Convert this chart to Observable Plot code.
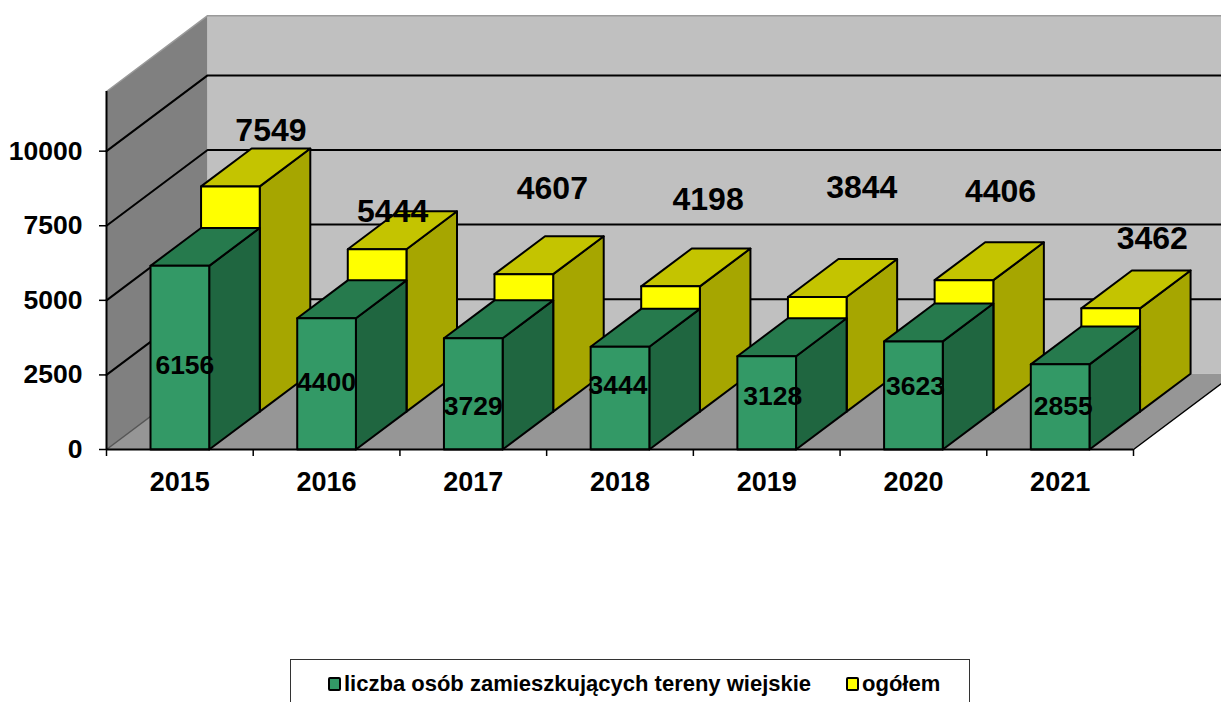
<!DOCTYPE html>
<html lang="pl">
<head>
<meta charset="utf-8">
<script src="https://cdn.jsdelivr.net/npm/d3@7"></script>
<script src="https://cdn.jsdelivr.net/npm/@observablehq/plot@0.6"></script>
<style>
html,body{margin:0;padding:0;background:#fff;width:1221px;height:702px;overflow:hidden;font-family:"Liberation Sans",Arial,sans-serif}
#legend{position:absolute;left:290px;top:659px;width:678px;height:60px;border:1px solid #333;border-bottom:none;box-sizing:content-box;font-weight:bold;font-size:22px;color:#000}
#legend span.k{position:absolute;top:11px;white-space:nowrap;line-height:26px}
#legend i{position:absolute;top:17px;width:9px;height:10px;border:2px solid #000;border-radius:2px}
</style>
</head>
<body>
<div id="chart"></div>
<div id="legend">
<i style="left:37px;background:#339966"></i><span class="k" style="left:53px">liczba osób zamieszkujących tereny wiejskie</span>
<i style="left:555px;background:#ffff00"></i><span class="k" style="left:571px">ogółem</span>
</div>
<script>
const years = [2015, 2016, 2017, 2018, 2019, 2020, 2021];
const rural = [6156, 4400, 3729, 3444, 3128, 3623, 2855];
const total = [7549, 5444, 4607, 4198, 3844, 4406, 3462];
const yTicks = [0, 2500, 5000, 7500, 10000];
const yMax = 12000;

// label nudges in pixels, relative to each label's anchor on its bar
const ruralNudgeX = [5, 0, 0, -2, 6, 2, 3];
const ruralNudgeY = [8, -1, 13, -13, -6, -9, 0];
const totalNudgeX = [-10, -35, -22, -13, -6, -14, -9];
const totalNudgeY = [-18, 0, -48, -49, -71, -51, -32];

// oblique projection: depth 1 = full floor depth, in scale units
const DX = 0.689, DY = 2540, HALF = 0.2;
const x0 = 2014.5, x1 = 2021.5;
const pt = (x, v, d) => ({x: x + d * DX, y: v + d * DY});

let id = 0;
const face = (fill, corners) => {
  const k = id++;
  const ring = [...corners, corners[0]];
  return ring.map(([x, v, d]) => ({...pt(x, v, d), id: k, fill}));
};
const box = (c, v, d0, d1, front, top, side) => {
  const a = c - HALF, b = c + HALF;
  return [
    ...face(side, [[b,0,d0],[b,v,d0],[b,v,d1],[b,0,d1]]),
    ...face(top, [[a,v,d0],[b,v,d0],[b,v,d1],[a,v,d1]]),
    ...face(front, [[a,0,d0],[b,0,d0],[b,v,d0],[a,v,d0]])
  ];
};

const wallLeft = face("#808080", [[x0,0,0],[x0,yMax,0],[x0,yMax,1],[x0,0,1]]);
const wallBack = face("#c0c0c0", [[x0,0,1],[x0,yMax,1],[x1,yMax,1],[x1,0,1]]);
const floor = face("#969696", [[x0,0,0],[x1,0,0],[x1,0,1],[x0,0,1]]);

const gridLines = yTicks.filter(v => v > 0).flatMap(v =>
  [[x0,v,0],[x0,v,1],[x1,v,1]].map(([x, w, d]) => ({...pt(x, w, d), v})));
const floorDiag = [[x0,0,0],[x0,0,1]].map(([x,v,d]) => pt(x,v,d));
const floorRight = [[x1,0,0],[x1,0,1]].map(([x,v,d]) => pt(x,v,d));
const wallTop = [[x0,yMax,0],[x0,yMax,1],[x1,yMax,1]].map(([x,v,d]) => pt(x,v,d));

const yellowBars = years.flatMap((c, i) => box(c, total[i], 0.5, 1, "#ffff00", "#c4c400", "#a6a600"));
const greenBars = years.flatMap((c, i) => box(c, rural[i], 0, 0.5, "#339966", "#267a4d", "#1f6640"));

const faceMark = (data, opts) => Plot.line(data, {x: "x", y: "y", z: "id", fill: "fill", ...opts});
const F = {fontFamily: "Liberation Sans", fontWeight: "bold", fill: "#000"};

const ruralLabels = years.map((c, i) => Plot.text([i], {
  x: () => c, y: () => rural[i] / 2, text: () => String(rural[i]),
  dx: ruralNudgeX[i], dy: ruralNudgeY[i], fontSize: 26.5, ...F
}));
const totalLabels = years.map((c, i) => Plot.text([i], {
  x: () => pt(c, total[i], 1).x, y: () => pt(c, total[i], 1).y, text: () => String(total[i]),
  dx: totalNudgeX[i], dy: totalNudgeY[i], fontSize: 32, ...F
}));

const boundaries = d3.range(x0, x1 + 0.5, 1);

const chart = Plot.plot({
  width: 1221,
  height: 655,
  marginLeft: 106,
  marginRight: 88,
  marginTop: 91,
  marginBottom: 206,
  style: {background: "#fff", overflow: "hidden"},
  x: {domain: [x0, x1], axis: null},
  y: {domain: [0, yMax], axis: null},
  marks: [
    faceMark(wallLeft, {stroke: "none"}),
    faceMark(wallBack, {stroke: "none"}),
    faceMark(floor, {stroke: "none"}),
    Plot.line(wallTop, {x: "x", y: "y", stroke: "#9a9a9a", strokeWidth: 1.5}),
    Plot.line(floorDiag, {x: "x", y: "y", stroke: "#555", strokeWidth: 1.5}),
    Plot.line(floorRight, {x: "x", y: "y", stroke: "#000", strokeWidth: 1.5}),
    Plot.line(gridLines, {x: "x", y: "y", z: "v", stroke: "#000", strokeWidth: 2}),
    Plot.ruleX([x0], {y1: 0, y2: yMax, stroke: "#000", strokeWidth: 2}),
    faceMark(yellowBars, {stroke: "#000", strokeWidth: 2, strokeLinejoin: "round"}),
    faceMark(greenBars, {stroke: "#000", strokeWidth: 2, strokeLinejoin: "round"}),
    Plot.ruleY([0], {x1: x0, x2: x1, stroke: "#000", strokeWidth: 2}),
    Plot.axisY({ticks: yTicks, tickSize: 7, tickPadding: 17, strokeWidth: 1.5, fontSize: 26.5, fontWeight: "bold", fontFamily: "Liberation Sans", label: null, tickFormat: d => String(d), color: "#000"}),
    Plot.axisX({ticks: boundaries, tickSize: 7, tickFormat: () => "", label: null, strokeWidth: 1.5, color: "#000"}),
    Plot.axisX({ticks: years, tickSize: 0, tickPadding: 22, fontSize: 27, fontWeight: "bold", fontFamily: "Liberation Sans", tickFormat: d => String(d), label: null, color: "#000"}),
    ...ruralLabels,
    ...totalLabels
  ]
});
document.getElementById("chart").appendChild(chart);
</script>
</body>
</html>
